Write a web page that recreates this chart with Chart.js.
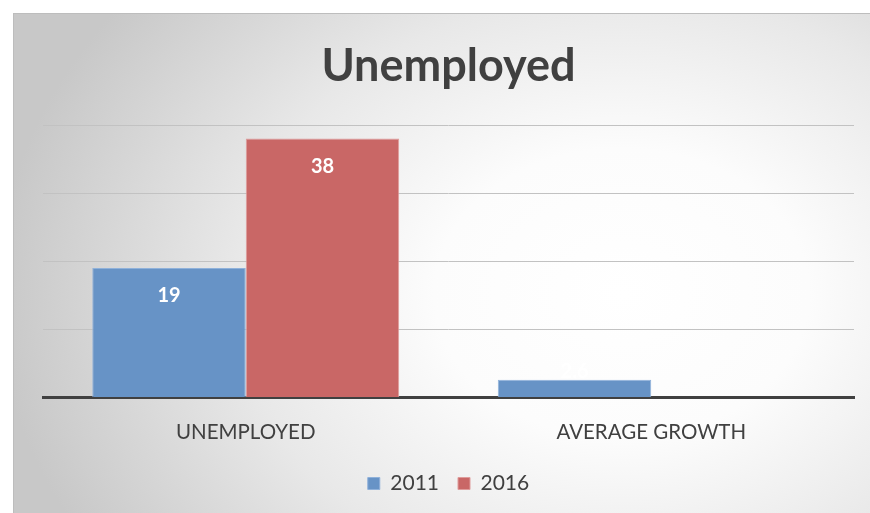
<!DOCTYPE html>
<html>
<head>
<meta charset="utf-8">
<script src="https://cdn.jsdelivr.net/npm/chart.js@4/dist/chart.umd.min.js"></script>
<style>
  html, body { margin: 0; padding: 0; background: #fff; overflow: hidden; }
  body { width: 870px; height: 513px; position: relative; }
  .chart-box {
    position: absolute;
    left: 13px;
    top: 13px;
    width: 870px;
    height: 510px;
    border: 1px solid #bdbdbd;
    box-sizing: border-box;
    background: radial-gradient(ellipse 72% 95% at 70% 55%, #ffffff 0%, #fcfcfc 30%, #e8e8e8 62%, #c8c8c8 100%);
  }
  canvas { position: absolute; left: 0; top: 0; }
</style>
</head>
<body>
<div class="chart-box">
  <canvas id="unemployed-chart" width="857" height="500"></canvas>
</div>
<script>
// Категории и значения по годам
const categories = ['UNEMPLOYED', 'AVERAGE GROWTH'];
const values2011 = [19, 2.6];
const values2016 = [38, null];
const seriesLabels = ['2011', '2016'];
const yTicks = [0, 10, 20, 30, 40];

const TEXT_COLOR = '#404040';
const FONT = 'Lato, "Open Sans", sans-serif';

// Подписи значений внутри верхнего края столбцов
const barValueLabels = {
  id: 'barValueLabels',
  afterDatasetsDraw(chart) {
    const ctx = chart.ctx;
    ctx.save();
    ctx.fillStyle = '#ffffff';
    ctx.font = `bold 20px ${FONT}`;
    ctx.textAlign = 'center';
    ctx.textBaseline = 'middle';
    chart.data.datasets.forEach((ds, i) => {
      chart.getDatasetMeta(i).data.forEach((bar, j) => {
        const v = ds.data[j];
        if (v === null || v === undefined) return;
        const h = bar.base - bar.y;
        const y = h > 40 ? bar.y + 28 : bar.y - 8;
        ctx.fillText(String(v), bar.x, y);
      });
    });
    ctx.restore();
  }
};

new Chart(document.getElementById('unemployed-chart'), {
  type: 'bar',
  data: {
    labels: categories,
    datasets: [
      {
        label: seriesLabels[0],
        data: values2011,
        backgroundColor: '#6793c6',
        borderColor: '#8fb1da',
        borderWidth: 1
      },
      {
        label: seriesLabels[1],
        data: values2016,
        backgroundColor: '#c96766',
        borderColor: '#df9c9b',
        borderWidth: 1
      }
    ]
  },
  options: {
    responsive: false,
    animation: false,
    categoryPercentage: 0.757,
    barPercentage: 1,
    layout: { padding: { left: 29, right: 17, top: 0, bottom: 10 } },
    plugins: {
      title: {
        display: true,
        text: 'Unemployed',
        color: TEXT_COLOR,
        font: { family: FONT, size: 45, weight: 'bold' },
        padding: { top: 25, bottom: 32 }
      },
      legend: {
        position: 'bottom',
        labels: {
          color: TEXT_COLOR,
          font: { family: FONT, size: 21 },
          boxWidth: 12,
          boxHeight: 12,
          padding: 19
        }
      },
      tooltip: { enabled: false }
    },
    scales: {
      x: {
        grid: { display: false, drawTicks: false },
        border: { color: TEXT_COLOR, width: 3 },
        ticks: {
          color: TEXT_COLOR,
          font: { family: FONT, size: 20.5 },
          padding: 23
        },
        // ось подписей чуть ниже, ближе к легенде
        afterFit: (scale) => { scale.height -= 14; }
      },
      y: {
        min: yTicks[0],
        max: yTicks[yTicks.length - 1],
        afterBuildTicks: (scale) => {
          scale.ticks = yTicks.map(v => ({ value: v }));
        },
        afterFit: (scale) => { scale.width = 0; },
        grid: { color: '#c2c2c2', lineWidth: 1, drawTicks: false },
        border: { display: false },
        ticks: { display: false }
      }
    }
  },
  plugins: [barValueLabels]
});
</script>
</body>
</html>
